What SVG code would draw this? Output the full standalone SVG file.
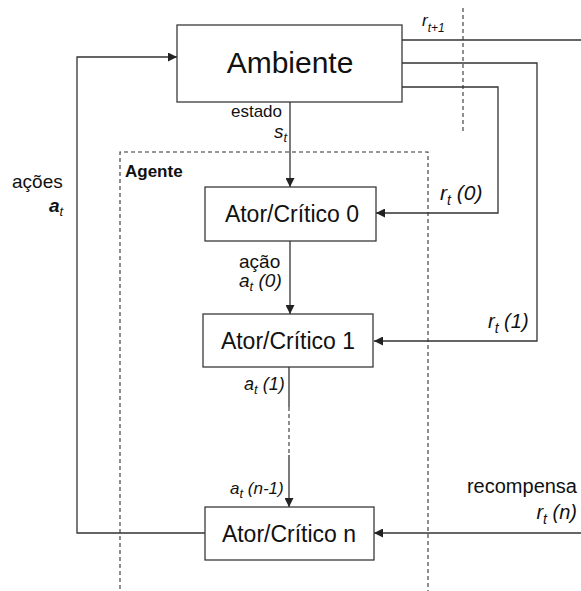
<svg xmlns="http://www.w3.org/2000/svg" width="581" height="591" viewBox="0 0 581 591">
  <style>
    .box { fill: #ffffff; stroke: #3a3a3a; stroke-width: 1.3; }
    .wire { fill: none; stroke: #333333; stroke-width: 1.3; }
    .dash { fill: none; stroke: #333333; stroke-width: 1.1; stroke-dasharray: 4 3; }
    text { font-family: "Liberation Sans", Arial, sans-serif; fill: #111111; }
    .big { font-size: 30px; text-anchor: middle; }
    .node { font-size: 23px; text-anchor: middle; }
    .lbl { font-size: 19px; }
    .it { font-style: italic; }
    .sub { font-size: 13px; font-style: italic; }
  </style>
  <defs>
    <marker id="arrow" viewBox="0 0 10 10" refX="10" refY="5" markerWidth="9" markerHeight="9" markerUnits="userSpaceOnUse" orient="auto">
      <path d="M0,0 L10,5 L0,10 z" fill="#222222"/>
    </marker>
  </defs>

  <!-- agent boundary and time-step separator -->
  <g id="boundaries">
    <path class="dash" d="M120,596 V152 H428 V596"/>
    <path class="dash" d="M463,8 V133"/>
  </g>

  <!-- connectors -->
  <g id="connectors">
    <!-- state s_t -->
    <path class="wire" d="M290,102 V187" marker-end="url(#arrow)"/>
    <!-- action chain -->
    <path class="wire" d="M290,241 V314" marker-end="url(#arrow)"/>
    <path class="wire" d="M289,367 V407"/>
    <path class="dash" d="M289,407 V455"/>
    <path class="wire" d="M289,455 V507" marker-end="url(#arrow)"/>
    <!-- actions back to the environment -->
    <path class="wire" d="M205,533 H77 V57 H177" marker-end="url(#arrow)"/>
    <!-- rewards -->
    <path class="wire" d="M402,40 H581"/>
    <path class="wire" d="M402,63 H537 V341 H374" marker-end="url(#arrow)"/>
    <path class="wire" d="M402,87 H498 V213 H376" marker-end="url(#arrow)"/>
    <path class="wire" d="M581,533 H374" marker-end="url(#arrow)"/>
  </g>

  <g id="ambiente">
    <rect class="box" x="177" y="25" width="225" height="77"/>
    <text class="big" x="290" y="73">Ambiente</text>
  </g>

  <g id="ator-critico-0">
    <rect class="box" x="205" y="187" width="171" height="54"/>
    <text class="node" x="292" y="222">Ator/Crítico 0</text>
  </g>

  <g id="ator-critico-1">
    <rect class="box" x="203" y="314" width="170" height="53"/>
    <text class="node" x="288" y="349">Ator/Crítico 1</text>
  </g>

  <g id="ator-critico-n">
    <rect class="box" x="205" y="507" width="169" height="53"/>
    <text class="node" x="289" y="542">Ator/Crítico n</text>
  </g>

  <!-- labels -->
  <g id="labels">
    <text x="125" y="177" style="font-size:17px;font-weight:bold">Agente</text>

    <text class="lbl" x="282" y="117" text-anchor="end" style="font-size:17px">estado</text>
    <text class="lbl it" x="274" y="138">s<tspan class="sub" dy="4">t</tspan></text>

    <text class="lbl" x="12" y="188">ações</text>
    <text class="lbl it" x="49" y="212" style="font-weight:bold">a<tspan class="sub" dy="4" style="font-weight:normal">t</tspan></text>

    <text class="lbl it" x="422" y="26" style="font-size:17px">r<tspan class="sub" dy="6" style="font-size:12px">t+1</tspan></text>

    <text class="lbl" x="239" y="268">ação</text>
    <text class="lbl it" x="239" y="287">a<tspan class="sub" dy="4">t</tspan><tspan dy="-4"> (0)</tspan></text>

    <text class="lbl it" x="440" y="200" style="font-size:21px">r<tspan class="sub" dy="5" style="font-size:14px">t</tspan><tspan dy="-5"> (0)</tspan></text>
    <text class="lbl it" x="488" y="328" style="font-size:20px">r<tspan class="sub" dy="5" style="font-size:14px">t</tspan><tspan dy="-5"> (1)</tspan></text>

    <text class="lbl it" x="244" y="390" style="font-size:18px">a<tspan class="sub" dy="4">t</tspan><tspan dy="-4"> (1)</tspan></text>
    <text class="lbl it" x="230" y="494" style="font-size:17px">a<tspan class="sub" dy="4">t</tspan><tspan dy="-4"> (n-1)</tspan></text>

    <text class="lbl" x="577" y="493" text-anchor="end" style="font-size:20px">recompensa</text>
    <text class="lbl it" x="577" y="519" text-anchor="end" style="font-size:20px">r<tspan class="sub" dy="5" style="font-size:14px">t</tspan><tspan dy="-5"> (n)</tspan></text>
  </g>
</svg>
